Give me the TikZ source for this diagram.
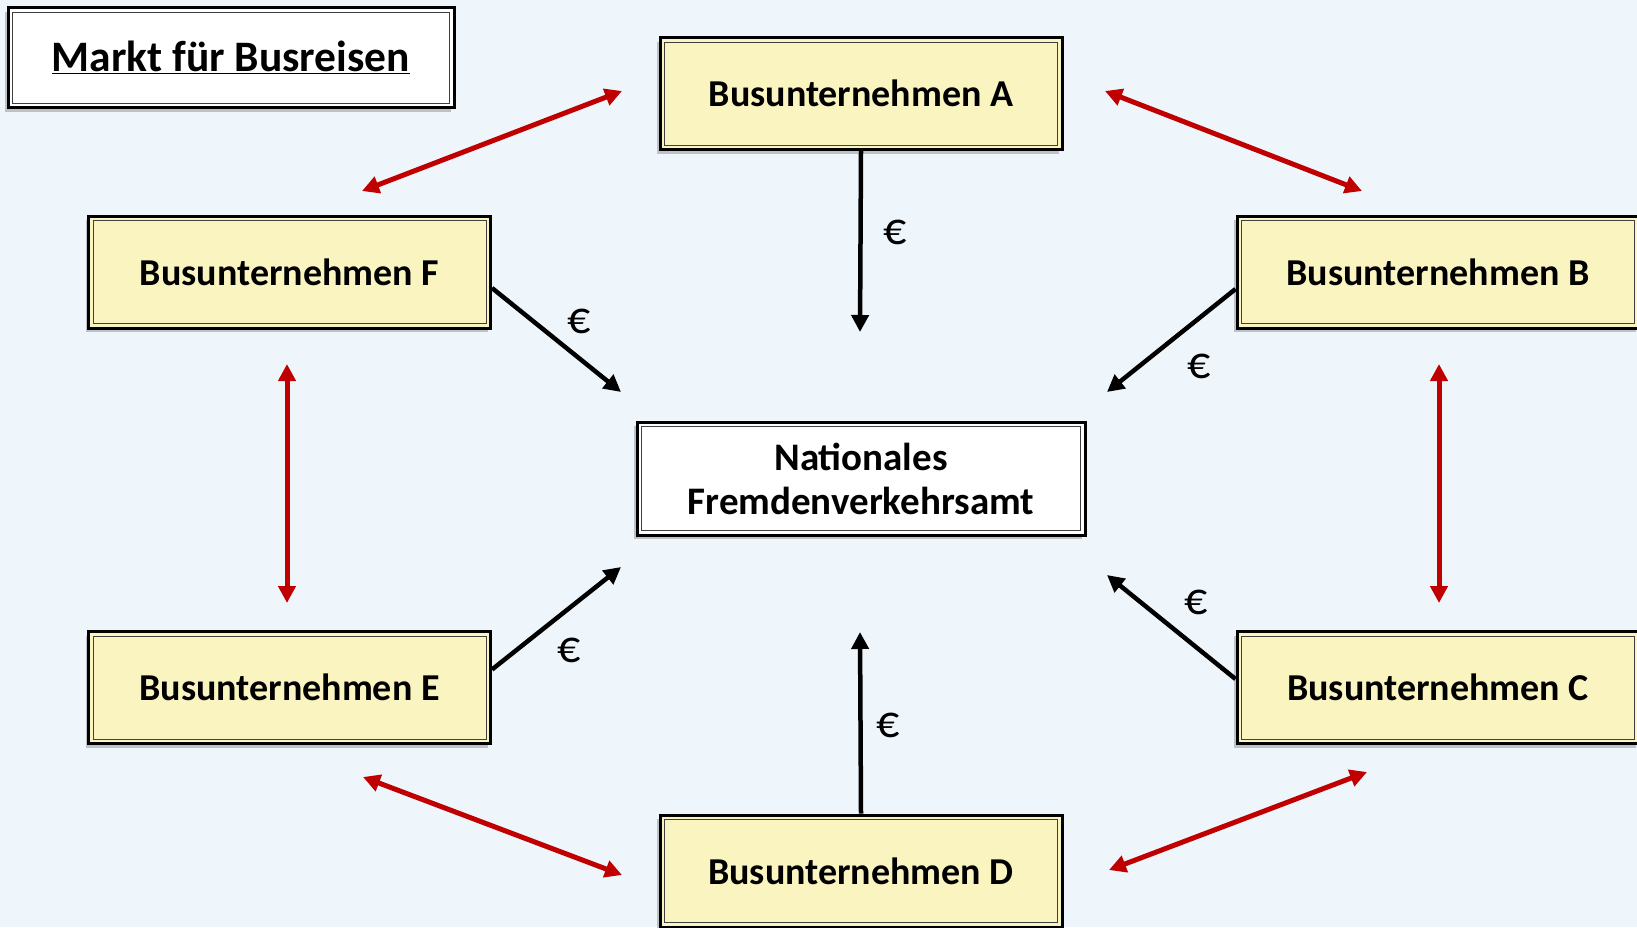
\documentclass[tikz,border=0pt]{standalone}
\usepackage{fontspec}
\setmainfont{Carlito}
\usetikzlibrary{shadows,arrows.meta}
\definecolor{bg}{HTML}{EEF6FC}
\definecolor{boxy}{HTML}{FAF5C0}
\definecolor{arrred}{HTML}{C00000}
\tikzset{
  framebox/.style={draw=black, line width=3pt, inner sep=0pt, align=center,
    font=\fontsize{38}{44}\selectfont\bfseries,
    drop shadow={shadow xshift=-3pt, shadow yshift=-4pt, opacity=0.3, fill=black!70},
    path picture={\draw[line width=0.9pt, black!75]
      ([shift={(4.5pt,4.5pt)}]path picture bounding box.south west) rectangle
      ([shift={(-4.5pt,-4.5pt)}]path picture bounding box.north east);}},
  firm/.style={framebox, fill=boxy, minimum width=402pt, minimum height=112pt},
  office/.style={framebox, fill=white, minimum width=448pt, minimum height=113pt, font=\fontsize{39}{44}\selectfont\bfseries},
  titlebox/.style={framebox, fill=white, minimum width=446pt, minimum height=100pt, font=\fontsize{43.5}{48}\selectfont\bfseries},
  money/.style={draw=black, line width=4.5pt, -{Triangle[length=17pt,width=17pt]}},
  rivalry/.style={draw=arrred, line width=5pt, {Triangle[length=17pt,width=17pt]}-{Triangle[length=17pt,width=17pt]}},
  euro/.style={font=\fontsize{46}{48}\selectfont, inner sep=0pt}
}
\begin{document}
\begin{tikzpicture}[x=1pt,y=-1pt]
\fill[bg] (0,0) rectangle (1637,927);
\useasboundingbox (0,0) rectangle (1637,927);

\node[titlebox] (title) at (231,57.5) {\underline{Markt für Busreisen}};
\node[firm] (A) at (861,93.5) {Busunternehmen A};
\node[firm] (F) at (289.5,272) {Busunternehmen F};
\node[firm] (B) at (1438,272) {Busunternehmen B};
\node[firm] (E) at (289.5,687.5) {Busunternehmen E};
\node[firm] (C) at (1438,687.5) {Busunternehmen C};
\node[firm] (D) at (861,871) {Busunternehmen D};
\node[office] (N) at (861,478.5) {Nationales\\Fremdenverkehrsamt};

% free ends of the money arrows
\coordinate (a1) at (860,332);
\coordinate (f1) at (621,392);
\coordinate (b1) at (1107,392);
\coordinate (e1) at (621,567);
\coordinate (c1) at (1107,575);
\coordinate (d1) at (860,632);

\draw[money] (A.south) -- (a1);
\draw[money] ([yshift=-16pt]F.east) -- (f1);
\draw[money] ([yshift=-17pt]B.west) -- (b1);
\draw[money] ([yshift=18pt]E.east) -- (e1);
\draw[money] ([yshift=8.5pt]C.west) -- (c1);
\draw[money] (D.north) -- (d1);

\node[euro] (ea) at (895,232) {€};
\node[euro] (ef) at (579,321) {€};
\node[euro] (eb) at (1199,366) {€};
\node[euro] (ec) at (1196,602) {€};
\node[euro] (ee) at (569,650) {€};
\node[euro] (ed) at (888,725) {€};

% rivalry arrows
\coordinate (r1a) at (622,91);  \coordinate (r1b) at (362,191);
\coordinate (r2a) at (1105,91); \coordinate (r2b) at (1362,191);
\coordinate (r3a) at (287,364); \coordinate (r3b) at (287,603);
\coordinate (r4a) at (1439,364);\coordinate (r4b) at (1439,603);
\coordinate (r5a) at (363,777); \coordinate (r5b) at (622,875);
\coordinate (r6a) at (1109,870);\coordinate (r6b) at (1367,772);
\draw[rivalry] (r1a) -- (r1b);
\draw[rivalry] (r2a) -- (r2b);
\draw[rivalry] (r3a) -- (r3b);
\draw[rivalry] (r4a) -- (r4b);
\draw[rivalry] (r5a) -- (r5b);
\draw[rivalry] (r6a) -- (r6b);
\end{tikzpicture}
\end{document}
